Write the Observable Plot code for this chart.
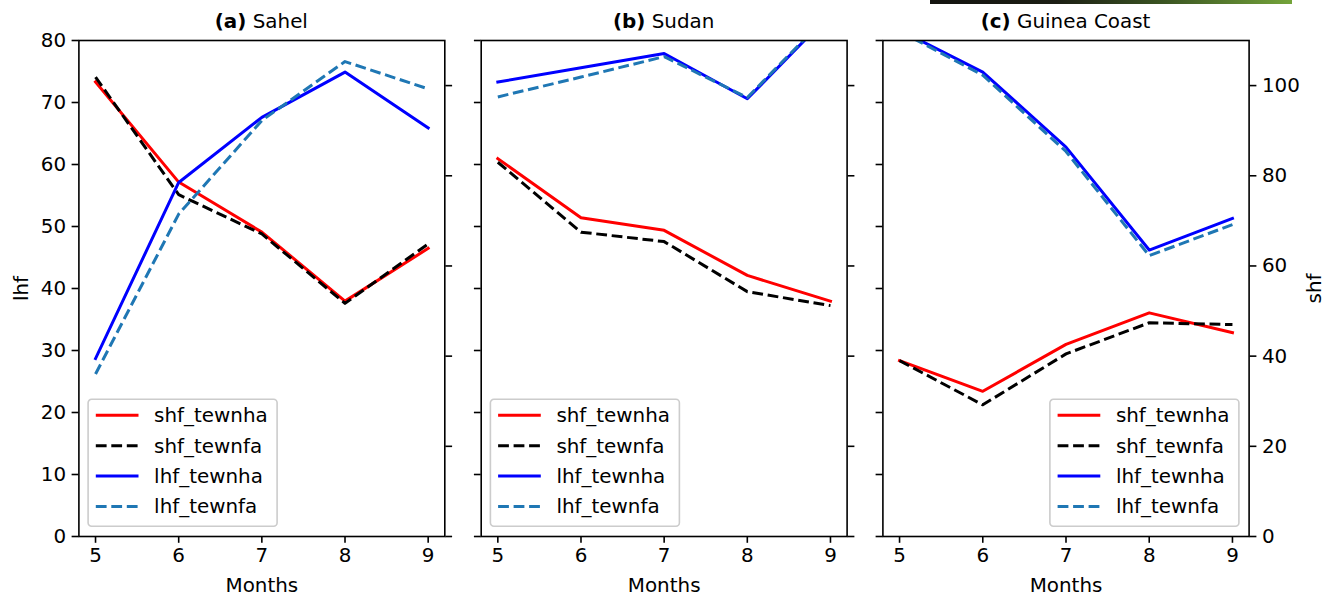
<!DOCTYPE html>
<html>
<head>
<meta charset="utf-8">
<script src="https://cdn.jsdelivr.net/npm/d3@7"></script>
<script src="https://cdn.jsdelivr.net/npm/@observablehq/plot@0.6"></script>
<style>
  html, body { margin: 0; padding: 0; background: #fff; }
  #chart { position: relative; width: 1335px; height: 598px; overflow: hidden; background: #fff; }
  #chart svg { position: absolute; top: 0; }
  #bar { position: absolute; left: 930px; top: 0; width: 362px; height: 4px;
         background: linear-gradient(to right, #141410 0%, #1c1e14 35%, #3b5522 65%, #74a43a 100%); }
</style>
</head>
<body>
<div id="chart"><div id="bar"></div></div>
<script>
// ---- data ----
const months = [5, 6, 7, 8, 9];
const seriesNames = ["shf_tewnha", "shf_tewnfa", "lhf_tewnha", "lhf_tewnfa"];
const panelLetters = ["(a)", "(b)", "(c)"];
const regions = ["Sahel", "Sudan", "Guinea Coast"];
const lhfTicks = [0, 10, 20, 30, 40, 50, 60, 70, 80];
const shfTicks = [0, 20, 40, 60, 80, 100];

// shf in W/m2 (right axis), lhf in W/m2 (left axis)
const sahel_shf_tewnha = [100.8, 78.6, 67.5, 52.2, 63.9];
const sahel_shf_tewnfa = [101.9, 75.8, 67.1, 51.7, 64.9];
const sahel_lhf_tewnha = [28.7, 57.1, 67.6, 74.9, 65.9];
const sahel_lhf_tewnfa = [26.2, 52.0, 67.1, 76.6, 72.2];

const sudan_shf_tewnha = [83.8, 70.7, 67.9, 57.9, 52.2];
const sudan_shf_tewnfa = [83.0, 67.5, 65.4, 54.3, 51.2];
const sudan_lhf_tewnha = [73.3, 75.6, 77.9, 70.6, 84.3];
const sudan_lhf_tewnfa = [70.9, 74.1, 77.4, 70.8, 84.5];

const guinea_shf_tewnha = [39.0, 32.2, 42.6, 49.6, 45.2];
const guinea_shf_tewnfa = [39.0, 29.2, 40.5, 47.4, 47.0];
const guinea_lhf_tewnha = [81.7, 74.9, 62.8, 46.2, 51.3];
const guinea_lhf_tewnfa = [81.5, 74.4, 62.1, 45.3, 50.3];

const lhfMax = 80, shfMax = 110;
const k = lhfMax / shfMax; // shf -> left-axis plotting units

const styles = {
  shf_tewnha: {stroke: "#ff0000", dash: null},
  shf_tewnfa: {stroke: "#000000", dash: "10.8,4.7"},
  lhf_tewnha: {stroke: "#0000ff", dash: null},
  lhf_tewnfa: {stroke: "#1f77b4", dash: "10.8,4.7"}
};

const panels = [
  {data: [sahel_shf_tewnha, sahel_shf_tewnfa, sahel_lhf_tewnha, sahel_lhf_tewnfa],
   left: 0, width: 462, ml: 78.4, mr: 17.7, showLeft: true, showRight: false, legend: "left"},
  {data: [sudan_shf_tewnha, sudan_shf_tewnfa, sudan_lhf_tewnha, sudan_lhf_tewnfa],
   left: 462, width: 404, ml: 18.7, mr: 19.4, showLeft: false, showRight: false, legend: "left"},
  {data: [guinea_shf_tewnha, guinea_shf_tewnfa, guinea_lhf_tewnha, guinea_lhf_tewnfa],
   left: 866, width: 469, ml: 16.4, mr: 86.4, showLeft: false, showRight: true, legend: "right"}
];

const FONT = "DejaVu Sans";
const FS = 19.9;
const H = 598, MT = 40, MB = 62;

const chart = document.getElementById("chart");

panels.forEach((p, i) => {
  const rows = seriesNames.map((name, si) => ({
    name,
    pts: months.map((m, mi) => ({month: m, v: p.data[si][mi], isShf: name.startsWith("shf")}))
  }));
  const lineMarks = rows.map(r => Plot.line(r.pts, {
    x: "month",
    y: d => d.isShf ? d.v * k : d.v,
    stroke: styles[r.name].stroke,
    strokeWidth: 3,
    strokeDasharray: styles[r.name].dash,
    strokeLinecap: styles[r.name].dash ? "butt" : "square",
    strokeLinejoin: "round",
    clip: true
  }));

  const svg = Plot.plot({
    width: p.width, height: H,
    marginLeft: p.ml, marginRight: p.mr, marginTop: MT, marginBottom: MB,
    x: {domain: [4.8, 9.2]},
    y: {domain: [0, lhfMax]},
    style: {fontFamily: FONT, fontSize: FS + "px", color: "#000", background: "transparent", overflow: "visible"},
    marks: [
      ...lineMarks,
      Plot.axisX({ticks: months, tickSize: 6.8, tickPadding: 5, strokeWidth: 1.6,
                  tickFormat: d => String(d),
                  label: "Months", labelAnchor: "center", labelArrow: "none",
                  labelOffset: 55, fontSize: FS}),
      Plot.axisY({anchor: "left", ticks: lhfTicks, tickSize: 6.8, tickPadding: 6, strokeWidth: 1.6,
                  tickFormat: p.showLeft ? (d => String(d)) : (() => ""),
                  label: p.showLeft ? "lhf" : null, labelAnchor: "center", labelArrow: "none",
                  labelOffset: 65, fontSize: FS}),
      Plot.axisY({anchor: "right", ticks: shfTicks.map(t => t * k), tickSize: 6.8, tickPadding: 6, strokeWidth: 1.6,
                  tickFormat: p.showRight ? (d => String(Math.round(d / k))) : (() => ""),
                  label: p.showRight ? "shf" : null, labelAnchor: "center", labelArrow: "none",
                  labelOffset: 72, fontSize: FS}),
      Plot.frame({strokeWidth: 1.6, stroke: "#000"})
    ]
  });
  svg.style.left = p.left + "px";
  chart.appendChild(svg);

  const s = d3.select(svg);
  const frameL = p.ml, frameR = p.width - p.mr;
  // title
  const t = s.append("text")
    .attr("x", (frameL + frameR) / 2).attr("y", 28.3)
    .attr("text-anchor", "middle")
    .attr("font-family", FONT).attr("font-size", FS).attr("fill", "#000");
  t.append("tspan").attr("font-weight", "bold").text(panelLetters[i]);
  t.append("tspan").text(" " + regions[i]);

  // legend
  const bw = 189, bh = 127;
  const bx = p.legend === "left" ? frameL + 9.7 : frameR - 9.7 - bw;
  const by = H - MB - 9.7 - bh;
  const g = s.append("g").attr("transform", `translate(${bx},${by})`);
  g.append("rect").attr("width", bw).attr("height", bh).attr("rx", 3.5)
    .attr("fill", "#fff").attr("fill-opacity", 0.8)
    .attr("stroke", "#cccccc").attr("stroke-width", 1.6);
  seriesNames.forEach((name, j) => {
    const cy = 16 + j * 30.4;
    g.append("line").attr("x1", 7.7).attr("x2", 50.4).attr("y1", cy).attr("y2", cy)
      .attr("stroke", styles[name].stroke).attr("stroke-width", 3)
      .attr("stroke-dasharray", styles[name].dash);
    g.append("text").attr("x", 66).attr("y", cy + 7)
      .attr("text-anchor", "start")
      .attr("font-family", FONT).attr("font-size", FS).attr("fill", "#000")
      .text(name);
  });
});
</script>
</body>
</html>
